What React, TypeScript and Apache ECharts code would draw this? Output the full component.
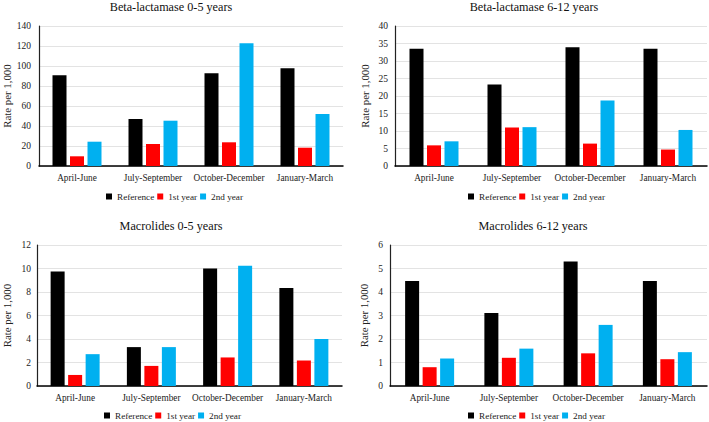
import React, { useEffect, useRef } from "react";
import * as echarts from "echarts";

const categories = ["April-June", "July-September", "October-December", "January-March"];
const seriesNames = ["Reference", "1st year", "2nd year"];
const colors = ["#000000", "#FF0000", "#00B0F0"];

const titles = [
  "Beta-lactamase 0-5 years",
  "Beta-lactamase 6-12 years",
  "Macrolides 0-5 years",
  "Macrolides 6-12 years",
];

// panel 1
const betaYoungReference = [90.7, 47, 92.7, 97.7];
const betaYoungYear1 = [9.7, 22, 23.7, 18.3];
const betaYoungYear2 = [24.3, 45.3, 122.7, 52];
// panel 2
const betaOldReference = [33.5, 23.3, 33.9, 33.5];
const betaOldYear1 = [5.9, 11, 6.4, 4.7];
const betaOldYear2 = [7.05, 11.1, 18.7, 10.3];
// panel 3
const macroYoungReference = [9.74, 3.31, 10.0, 8.34];
const macroYoungYear1 = [0.94, 1.71, 2.43, 2.17];
const macroYoungYear2 = [2.71, 3.31, 10.23, 4.0];
// panel 4
const macroOldReference = [4.47, 3.11, 5.3, 4.47];
const macroOldYear1 = [0.8, 1.2, 1.39, 1.14];
const macroOldYear2 = [1.17, 1.59, 2.6, 1.44];

const yMax = [140, 40, 12, 6];
const yInterval = [20, 5, 2, 1];

const panelData = [
  [betaYoungReference, betaYoungYear1, betaYoungYear2],
  [betaOldReference, betaOldYear1, betaOldYear2],
  [macroYoungReference, macroYoungYear1, macroYoungYear2],
  [macroOldReference, macroOldYear1, macroOldYear2],
];

const FONT = "'Liberation Serif', 'Times New Roman', serif";

const grids = [
  { left: 36, top: 26, width: 307, height: 140 },
  { left: 395, top: 26, width: 312, height: 140 },
  { left: 31, top: 245, width: 311, height: 141 },
  { left: 390, top: 245, width: 317, height: 141 },
];
const titlePos = [
  { x: 171, y: 1 },
  { x: 534, y: 1 },
  { x: 171, y: 220 },
  { x: 533, y: 220 },
];
const legendPos = [
  { x: 106, y: 192 },
  { x: 468, y: 192 },
  { x: 104, y: 411 },
  { x: 468, y: 411 },
];
const nameGaps = [27, 25, 25, 21];
const labelMargins = [8, 7, 6, 7];

export default function App() {
  const ref = useRef<HTMLDivElement>(null);
  useEffect(() => {
    if (!ref.current) return;
    const chart = echarts.init(ref.current, null, { renderer: "svg" });
    const series: any[] = [];
    panelData.forEach((panel, p) => {
      panel.forEach((vals, s) => {
        series.push({
          type: "bar",
          name: seriesNames[s],
          xAxisIndex: p,
          yAxisIndex: p,
          data: vals,
          barWidth: 14,
          barGap: "25%",
          itemStyle: { color: colors[s] },
        });
      });
    });
    chart.setOption({
      animation: false,
      textStyle: { fontFamily: FONT },
      title: titles.map((t, i) => ({
        text: t,
        left: titlePos[i].x,
        top: titlePos[i].y,
        padding: 0,
        textAlign: "center",
        textStyle: { fontFamily: FONT, fontSize: 12.2, fontWeight: "normal", color: "#111" },
      })),
      legend: legendPos.map((lp) => ({
        data: seriesNames,
        left: lp.x,
        top: lp.y,
        padding: 0,
        icon: "rect",
        itemWidth: 6,
        itemHeight: 6,
        itemGap: 3,
        textStyle: { fontFamily: FONT, fontSize: 9.2, color: "#222" },
      })),
      grid: grids.map((g) => ({ ...g, containLabel: false })),
      xAxis: grids.map((_, i) => ({
        type: "category",
        gridIndex: i,
        data: categories,
        axisLine: { lineStyle: { color: "#000", width: 1.5 } },
        axisTick: { show: false },
        axisLabel: { fontFamily: FONT, fontSize: 9.3, color: "#222", margin: 7, interval: 0 },
      })),
      yAxis: grids.map((_, i) => ({
        type: "value",
        gridIndex: i,
        min: 0,
        max: yMax[i],
        interval: yInterval[i],
        name: "Rate per 1,000",
        nameLocation: "middle",
        nameRotate: 90,
        nameGap: nameGaps[i],
        nameTextStyle: { fontFamily: FONT, fontSize: 10.8, color: "#222" },
        axisLine: { show: true, lineStyle: { color: "#222", width: 1.2 } },
        axisTick: { show: false },
        axisLabel: { fontFamily: FONT, fontSize: 9.5, color: "#222", margin: labelMargins[i] },
        splitLine: { lineStyle: { color: "#e3e3e3", width: 1 } },
      })),
      series,
    });
    return () => chart.dispose();
  }, []);
  return (
    <div
      ref={ref}
      style={{ position: "fixed", left: 0, top: 0, width: 709, height: 422, background: "#fff" }}
    />
  );
}
